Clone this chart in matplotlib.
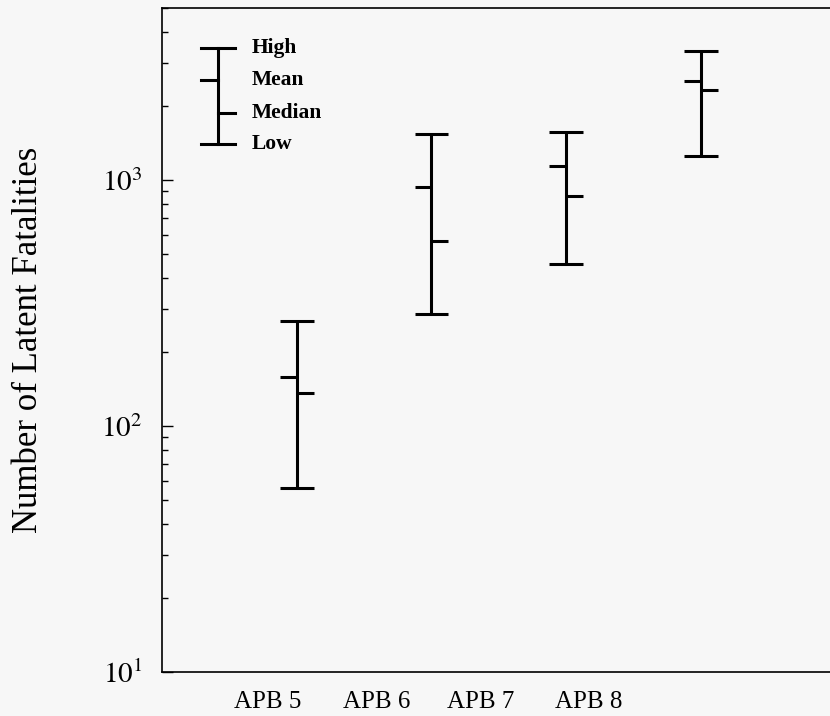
import numpy as np
import matplotlib
matplotlib.use("Agg")
import matplotlib.pyplot as plt
import matplotlib.transforms as mtransforms
from matplotlib.ticker import LogLocator, FixedLocator, NullFormatter

plt.rcParams['font.family'] = ['Liberation Serif', 'DejaVu Serif']
plt.rcParams['mathtext.fontset'] = 'stix'

# values (latent fatalities)
cases = ["APB 5", "APB 6", "APB 7", "APB 8"]
high = [268, 1540, 1570, 3350]
mean = [158, 936, 1140, 2530]
median = [136, 565, 861, 2330]
low = [56, 285, 455, 1250]

legend_names = ["High", "Mean", "Median", "Low"]

bg = '#f7f7f7'
fig = plt.figure(figsize=(8.3, 7.16), dpi=100, facecolor=bg)
ax = fig.add_axes([162/830, 44/716, 673.5/830, 664/716], facecolor=bg)

xs = np.arange(1, len(cases) + 1)
half = 0.125
lw = 2.2

# whiskers and caps
ax.vlines(xs, low, high, color='black', lw=lw)
ax.hlines(high, xs - half, xs + half, color='black', lw=lw)
ax.hlines(low, xs - half, xs + half, color='black', lw=lw)
ax.hlines(mean, xs - half, xs, color='black', lw=lw)
ax.hlines(median, xs, xs + half, color='black', lw=lw)

ax.set_yscale('log')
ax.set_ylim(10, 5000)
ax.set_xlim(0, 5)

# legend key drawn by hand (x in data, y in axes fraction)
tr = mtransforms.blended_transform_factory(ax.transData, ax.transAxes)
lx = 0.416
ly = [0.940, 0.892, 0.842, 0.795]
ax.plot([lx, lx], [ly[3], ly[0]], color='black', lw=lw, transform=tr)
ax.plot([lx - half, lx + half], [ly[0], ly[0]], color='black', lw=lw, transform=tr)
ax.plot([lx - half, lx + half], [ly[3], ly[3]], color='black', lw=lw, transform=tr)
ax.plot([lx - half, lx], [ly[1], ly[1]], color='black', lw=lw, transform=tr)
ax.plot([lx, lx + half], [ly[2], ly[2]], color='black', lw=lw, transform=tr)
for name, y in zip(legend_names, ly):
    ax.text(0.668, y, name, transform=tr, fontsize=15.5, fontweight='bold',
            va='center', ha='left')

# y axis
ax.yaxis.set_major_locator(FixedLocator([10, 100, 1000]))
ax.set_yticklabels([r'$10^1$', r'$10^2$', r'$10^3$'], fontsize=21)
ax.yaxis.set_minor_locator(LogLocator(base=10, subs=np.arange(2, 10)))
ax.yaxis.set_minor_formatter(NullFormatter())
ax.tick_params(axis='y', which='major', direction='in', length=8, width=1, pad=14)
ax.tick_params(axis='y', which='minor', direction='in', length=4, width=1)
ax.set_ylabel("Number of Latent Fatalities", fontsize=25)
ax.yaxis.set_label_coords(-0.173, 0.5)

# x labels sit left of the bars in the original
label_pos = [0.787, 1.596, 2.368, 3.17]
ax.set_xticks(label_pos)
ax.set_xticklabels(cases, fontsize=18)
ax.tick_params(axis='x', length=0, pad=14)

for s in ax.spines.values():
    s.set_linewidth(1.2)

fig.savefig("out.png", dpi=100, facecolor=bg)
